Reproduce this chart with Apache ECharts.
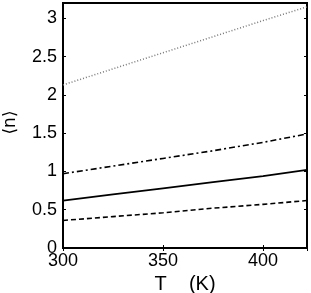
<!DOCTYPE html>
<html><head><meta charset="utf-8">
<script src="https://cdn.jsdelivr.net/npm/echarts@6/dist/echarts.min.js"></script>
<style>html,body{margin:0;padding:0;background:#fff}#c{width:311px;height:293px}</style>
</head><body><div id="c"></div>
<script>
var temps = [300, 325, 350, 375, 400, 422];
var dotted = [2.13, 2.34, 2.55, 2.76, 2.97, 3.15];
var dashDot = [0.97, 1.07, 1.17, 1.27, 1.38, 1.49];
var solid = [0.62, 0.70, 0.78, 0.86, 0.94, 1.02];
var dashed = [0.36, 0.41, 0.46, 0.52, 0.57, 0.62];
var xTicks = [300, 350, 400];
var yTicks = [0, 0.5, 1, 1.5, 2, 2.5, 3];

function pairs(v){ return temps.map(function(t,i){ return [t, v[i]]; }); }
var FONT = '"Liberation Sans", Arial, "DejaVu Sans", sans-serif';
var chart = echarts.init(document.getElementById('c'), null, {renderer:'canvas'});
var tickStyle = {show:true, inside:true, length:3, lineStyle:{color:'#000', width:1}};
chart.setOption({
  animation:false,
  grid:{left:63, right:4, top:3, bottom:45, containLabel:false, outerBoundsMode:'none',
        show:true, borderColor:'#000', borderWidth:2},
  xAxis:[{
    type:'value', min:300, max:422, interval:50,
    name:'T    (K)', nameLocation:'middle', nameGap:20,
    nameTextStyle:{fontFamily:FONT, fontSize:20, color:'#000'},
    axisLine:{show:true, lineStyle:{color:'#000', width:2}},
    axisTick:tickStyle, splitLine:{show:false},
    axisLabel:{fontFamily:FONT, fontSize:18, color:'#000', margin:4, showMaxLabel:false,
      formatter:function(v){ return xTicks.indexOf(v)>=0 ? String(v) : ''; }}
  },{
    type:'value', position:'top', min:300, max:422, interval:50,
    axisLine:{show:true, lineStyle:{color:'#000', width:2}},
    axisTick:tickStyle, axisLabel:{show:false}, splitLine:{show:false}
  }],
  yAxis:[{
    type:'value', min:0, max:3.2, interval:0.5,
    name:'⟨n⟩', nameLocation:'middle', nameGap:44, nameRotate:90,
    nameTextStyle:{fontFamily:'"DejaVu Sans", sans-serif', fontSize:17, color:'#000', padding:[0,0,0,6]},
    axisLine:{show:true, lineStyle:{color:'#000', width:2}},
    axisTick:tickStyle, splitLine:{show:false},
    axisLabel:{fontFamily:FONT, fontSize:18, color:'#000', margin:6, showMaxLabel:false,
      formatter:function(v){ return yTicks.indexOf(v)>=0 ? String(v) : ''; }}
  },{
    type:'value', position:'right', min:0, max:3.2, interval:0.5,
    axisLine:{show:true, lineStyle:{color:'#000', width:2}},
    axisTick:tickStyle, axisLabel:{show:false}, splitLine:{show:false}
  }],
  series:[
    {type:'line', data:pairs(dotted), showSymbol:false, lineStyle:{color:'#777', width:1.5, type:[1,2]}},
    {type:'line', data:pairs(dashDot), showSymbol:false, lineStyle:{color:'#000', width:1.6, type:[6,3,2,3]}},
    {type:'line', data:pairs(solid), showSymbol:false, lineStyle:{color:'#000', width:1.8}},
    {type:'line', data:pairs(dashed), showSymbol:false, lineStyle:{color:'#000', width:1.6, type:[5,3]}}
  ]
});
</script></body></html>
